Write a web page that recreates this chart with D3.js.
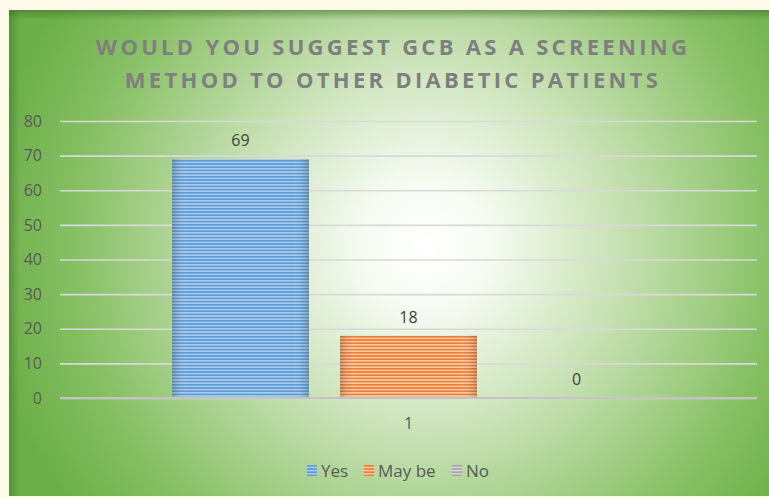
<!DOCTYPE html>
<html><head><meta charset="utf-8">
<script src="https://cdn.jsdelivr.net/npm/d3@7"></script>
<style>
html,body{margin:0;padding:0;background:#fffbe9;}
svg{display:block;}
</style></head>
<body>
<svg id="c" width="769" height="498"></svg>
<script>
const titleLines = ["WOULD YOU SUGGEST GCB AS A SCREENING", "METHOD TO OTHER DIABETIC PATIENTS"];
const categories = ["1"];
const seriesNames = ["Yes", "May be", "No"];
const seriesValues = [69, 18, 0];
const seriesColors = ["#5b9bd5", "#ed7d31", "#a5a5a5"];
const stripeColors = ["#a9cbec", "#f9c9a6", "#d6d6d6"];
const yTicks = [0, 10, 20, 30, 40, 50, 60, 70, 80];

const svg = d3.select("#c");
const defs = svg.append("defs");
const FONT = "'Open Sans', 'Liberation Sans', sans-serif";

// background gradient
const rg = defs.append("radialGradient").attr("id", "bg")
  .attr("gradientUnits", "userSpaceOnUse")
  .attr("cx", 425).attr("cy", 245).attr("r", 440)
  .attr("fx", 425).attr("fy", 245);
rg.append("stop").attr("offset", "0").attr("stop-color", "#ffffff");
rg.append("stop").attr("offset", "0.15").attr("stop-color", "#f6fbf2");
rg.append("stop").attr("offset", "0.45").attr("stop-color", "#c6e0b2");
rg.append("stop").attr("offset", "0.8").attr("stop-color", "#86bf63");
rg.append("stop").attr("offset", "1").attr("stop-color", "#6caf48");

const topShade = defs.append("linearGradient").attr("id", "topShade").attr("x1", 0).attr("y1", 0).attr("x2", 0).attr("y2", 1);
topShade.append("stop").attr("offset", 0).attr("stop-color", "#3f6e2a").attr("stop-opacity", 0.55);
topShade.append("stop").attr("offset", 1).attr("stop-color", "#3f6e2a").attr("stop-opacity", 0);
const leftShade = defs.append("linearGradient").attr("id", "leftShade").attr("x1", 0).attr("y1", 0).attr("x2", 1).attr("y2", 0);
leftShade.append("stop").attr("offset", 0).attr("stop-color", "#3f6e2a").attr("stop-opacity", 0.5);
leftShade.append("stop").attr("offset", 1).attr("stop-color", "#3f6e2a").attr("stop-opacity", 0);

// stripe patterns
seriesNames.forEach((n, i) => {
  const p = defs.append("pattern").attr("id", "stripe" + i)
    .attr("patternUnits", "userSpaceOnUse").attr("width", 10).attr("height", 3.2);
  p.append("rect").attr("width", 10).attr("height", 3.2).attr("fill", stripeColors[i]);
  p.append("rect").attr("width", 10).attr("height", 1.6).attr("fill", seriesColors[i]);
});
const barGlow = defs.append("linearGradient").attr("id", "barGlow").attr("x1", 0).attr("y1", 0).attr("x2", 1).attr("y2", 0);
barGlow.append("stop").attr("offset", 0).attr("stop-color", "#000").attr("stop-opacity", 0.18);
barGlow.append("stop").attr("offset", 0.12).attr("stop-color", "#fff").attr("stop-opacity", 0);
barGlow.append("stop").attr("offset", 0.88).attr("stop-color", "#fff").attr("stop-opacity", 0);
barGlow.append("stop").attr("offset", 1).attr("stop-color", "#000").attr("stop-opacity", 0.18);

const panel = {x: 9, y: 10, w: 760, h: 486};
svg.append("rect").attr("x", panel.x).attr("y", panel.y).attr("width", panel.w).attr("height", panel.h).attr("fill", "url(#bg)");
svg.append("rect").attr("x", panel.x).attr("y", panel.y).attr("width", panel.w).attr("height", 10).attr("fill", "url(#topShade)");
svg.append("rect").attr("x", panel.x).attr("y", panel.y).attr("width", 10).attr("height", panel.h).attr("fill", "url(#leftShade)");

// title
svg.append("g").selectAll("text").data(titleLines).join("text")
  .attr("x", 393).attr("y", (d, i) => 55 + i * 33)
  .attr("text-anchor", "middle")
  .attr("font-family", FONT)
  .attr("font-weight", "bold").attr("font-size", 22)
  .attr("letter-spacing", 3.3)
  .attr("fill", "#7f7f7f")
  .text(d => d);

// scales
const plot = {left: 60, right: 757, top: 121, bottom: 398};
const y = d3.scaleLinear().domain([0, 80]).range([plot.bottom, plot.top]);
const x0 = d3.scaleBand().domain(categories).range([plot.left, plot.right]).paddingInner(0).paddingOuter(0.237);
const x1 = d3.scaleBand().domain(seriesNames).range([0, x0.bandwidth()]).paddingInner(0.185).paddingOuter(0);

// gridlines
const yAxis = d3.axisLeft(y).tickValues(yTicks).tickSize(-(plot.right - plot.left)).tickPadding(18);
const ga = svg.append("g").attr("transform", `translate(${plot.left},0)`).call(yAxis);
ga.select(".domain").remove();
ga.selectAll(".tick line").attr("stroke", "#d9d9d9").attr("stroke-width", 1.6);
ga.selectAll(".tick text").attr("font-family", FONT)
  .attr("font-size", 16).attr("fill", "#595959");

// bars
const data = seriesNames.map((n, i) => ({name: n, value: seriesValues[i], i}));
const gb = svg.append("g").attr("transform", `translate(${x0(categories[0])},0)`);
gb.selectAll("rect.bar").data(data).join("rect").attr("class", "bar")
  .attr("x", d => x1(d.name)).attr("width", x1.bandwidth())
  .attr("y", d => y(d.value)).attr("height", d => y(0) - y(d.value))
  .attr("fill", d => `url(#stripe${d.i})`);
gb.selectAll("rect.glow").data(data).join("rect").attr("class", "glow")
  .attr("x", d => x1(d.name)).attr("width", x1.bandwidth())
  .attr("y", d => y(d.value)).attr("height", d => y(0) - y(d.value))
  .attr("fill", "url(#barGlow)");
gb.selectAll("text").data(data).join("text")
  .attr("x", d => x1(d.name) + x1.bandwidth() / 2)
  .attr("y", d => y(d.value) - 13)
  .attr("text-anchor", "middle")
  .attr("font-family", FONT)
  .attr("font-size", 16).attr("fill", "#404040")
  .text(d => d.value);

// x axis line
svg.append("line").attr("x1", plot.left).attr("x2", plot.right).attr("y1", y(0)).attr("y2", y(0))
  .attr("stroke", "#c4c4c4").attr("stroke-width", 2.2);
const xAxis = d3.axisBottom(x0).tickSize(0).tickPadding(20);
const gx = svg.append("g").attr("transform", `translate(0,${y(0)})`).call(xAxis);
gx.select(".domain").remove();
gx.selectAll("text").attr("font-family", FONT)
  .attr("font-size", 16).attr("fill", "#595959");

// legend
const legendX = [307, 364, 452];
const lg = svg.append("g");
const li = lg.selectAll("g").data(data).join("g").attr("transform", (d, i) => `translate(${legendX[i]},465)`);
li.append("rect").attr("width", 10).attr("height", 11).attr("fill", d => `url(#stripe${d.i})`);
li.append("text").attr("x", 14).attr("y", 12)
  .attr("font-family", FONT)
  .attr("font-size", 17).attr("fill", "#595959").text(d => d.name);
</script>
</body></html>
